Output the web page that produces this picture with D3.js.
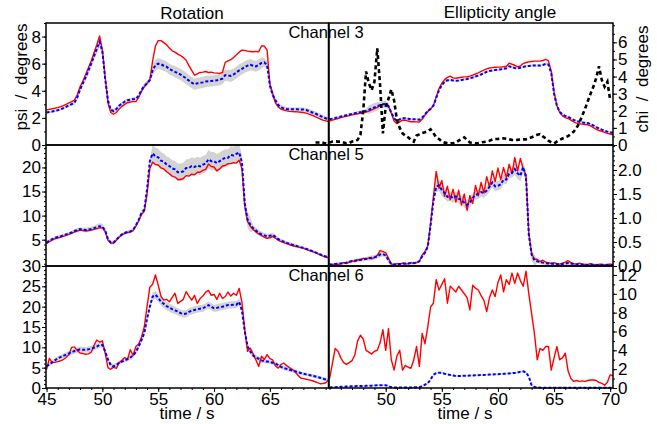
<!DOCTYPE html>
<html>
<head>
<meta charset="utf-8">
<script src="https://cdn.jsdelivr.net/npm/d3@7"></script>
<style>
  html, body { margin: 0; padding: 0; background: #fff; }
  svg { display: block; font-family: "Liberation Sans", Arial, Helvetica, sans-serif; }
</style>
</head>
<body>
<script>
// traces are sampled every 0.25 s starting at 45 s
const T0 = 45, DT = 0.25;
// the black dashed trace starts a bit earlier
const BLACK_T0 = 43.75;

// ---- Channel 3 ----
const rot3Red = [
  2.59, 2.63, 2.67, 2.71, 2.76, 2.82, 2.90, 3.00, 3.10, 3.20,
  3.32, 3.70, 4.30, 4.70, 5.20, 5.70, 6.20, 6.80, 7.40, 8.05,
  7.00, 5.00, 3.10, 2.40, 2.27, 2.40, 2.65, 2.85, 3.00, 3.12,
  3.17, 3.20, 3.20, 3.50, 3.95, 4.30, 4.55, 4.80, 6.20, 7.30,
  7.70, 7.70, 7.55, 7.40, 7.15, 6.95, 6.85, 6.70, 6.60, 6.45,
  6.25, 5.85, 5.50, 5.15, 5.25, 5.35, 5.38, 5.42, 5.35, 5.38,
  5.32, 5.30, 5.28, 5.35, 6.10, 6.20, 6.30, 6.45, 6.65, 6.85,
  7.00, 6.98, 6.92, 6.90, 6.88, 6.90, 6.88, 7.30, 7.30, 7.00,
  4.50, 3.80, 3.10, 2.80, 2.65, 2.58, 2.52, 2.48, 2.46, 2.45,
  2.44, 2.42, 2.40, 2.35, 2.28, 2.20, 2.12, 2.02, 1.92, 1.84,
  1.78, 1.72
];
const rot3Blue = [
  2.39, 2.43, 2.47, 2.52, 2.57, 2.63, 2.72, 2.82, 2.92, 3.02,
  3.12, 3.50, 4.10, 4.55, 5.00, 5.50, 6.00, 6.55, 7.10, 7.60,
  6.90, 4.90, 3.30, 2.60, 2.50, 2.65, 2.90, 3.05, 3.20, 3.30,
  3.35, 3.38, 3.40, 3.65, 4.05, 4.35, 4.55, 4.80, 5.50, 5.90,
  6.00, 5.95, 5.85, 5.78, 5.60, 5.50, 5.40, 5.30, 5.20, 5.05,
  4.92, 4.75, 4.60, 4.48, 4.55, 4.58, 4.62, 4.68, 4.70, 4.72,
  4.75, 4.78, 4.82, 4.90, 5.15, 5.12, 5.10, 5.20, 5.35, 5.50,
  5.62, 5.75, 5.85, 5.92, 5.85, 5.80, 5.90, 6.05, 6.10, 5.90,
  4.40, 3.70, 3.30, 2.95, 2.78, 2.70, 2.66, 2.64, 2.63, 2.63,
  2.63, 2.62, 2.62, 2.58, 2.50, 2.42, 2.35, 2.25, 2.15, 2.05,
  1.97, 1.90
];
const chi3Red = [
  1.40, 1.45, 1.50, 1.55, 1.60, 1.64, 1.68, 1.72, 1.76, 1.80,
  1.83, 1.85, 1.88, 1.93, 1.98, 2.05, 2.12, 2.20, 2.30, 2.38,
  2.40, 2.30, 1.85, 1.40, 1.25, 1.35, 1.45, 1.45, 1.40, 1.36,
  1.36, 1.35, 1.34, 1.50, 1.75, 1.95, 2.10, 2.30, 2.80, 3.30,
  3.60, 3.82, 3.95, 4.02, 3.92, 3.90, 3.93, 3.96, 3.98, 3.99,
  4.02, 4.08, 4.15, 4.22, 4.30, 4.38, 4.45, 4.50, 4.52, 4.54,
  4.55, 4.55, 4.57, 4.60, 4.78, 4.72, 4.66, 4.58, 4.62, 4.76,
  4.82, 4.86, 4.88, 4.90, 4.90, 4.90, 4.94, 5.00, 4.92, 4.30,
  3.10, 2.30, 1.90, 1.70, 1.60, 1.55, 1.45, 1.35, 1.28, 1.24,
  1.22, 1.20, 1.18, 1.12, 1.02, 0.92, 0.85, 0.80, 0.74, 0.68,
  0.64, 0.60
];
const chi3Blue = [
  1.50, 1.54, 1.58, 1.62, 1.66, 1.70, 1.74, 1.78, 1.82, 1.86,
  1.89, 1.92, 1.95, 2.00, 2.06, 2.13, 2.20, 2.27, 2.33, 2.38,
  2.38, 2.25, 1.90, 1.55, 1.42, 1.50, 1.56, 1.56, 1.53, 1.50,
  1.50, 1.50, 1.48, 1.60, 1.80, 1.98, 2.12, 2.30, 2.75, 3.20,
  3.50, 3.70, 3.78, 3.80, 3.77, 3.76, 3.77, 3.80, 3.83, 3.86,
  3.90, 3.94, 4.00, 4.06, 4.12, 4.20, 4.28, 4.33, 4.36, 4.38,
  4.40, 4.42, 4.45, 4.48, 4.60, 4.55, 4.50, 4.48, 4.52, 4.56,
  4.60, 4.62, 4.64, 4.65, 4.64, 4.64, 4.68, 4.74, 4.70, 4.20,
  3.00, 2.30, 1.95, 1.78, 1.70, 1.65, 1.56, 1.47, 1.40, 1.35,
  1.32, 1.30, 1.28, 1.22, 1.14, 1.04, 0.97, 0.90, 0.84, 0.78,
  0.74, 0.70
];
const chi3Black = [
  0.15, 0.15, 0.18, 0.12, 0.10,
  0.14, 0.20, 0.22, 0.20, 0.20, 0.15, 0.10, 0.12, 0.20, 0.22,
  0.30, 0.60, 2.00, 4.30, 3.60, 3.20, 3.70, 5.65, 3.50, 0.68,
  2.24, 2.70, 3.25, 2.60, 1.46, 1.00, 0.68, 0.55, 0.45, 0.30,
  0.20, 0.55, 0.62, 0.70, 0.75, 0.80, 0.92, 0.70, 0.45, 0.35,
  0.20, 0.14, 0.12, 0.10, 0.10, 0.15, 0.25, 0.35, 0.45, 0.30,
  0.15, 0.12, 0.10, 0.12, 0.15, 0.18, 0.20, 0.25, 0.32, 0.35,
  0.36, 0.38, 0.39, 0.36, 0.33, 0.30, 0.28, 0.30, 0.32, 0.33,
  0.33, 0.38, 0.45, 0.52, 0.60, 0.64, 0.50, 0.39, 0.25, 0.15,
  0.10, 0.20, 0.30, 0.38, 0.45, 0.52, 0.65, 0.78, 1.00, 1.30,
  1.70, 2.10, 2.55, 3.00, 3.40, 3.90, 4.60, 3.80, 3.40, 3.70,
  2.63
];

// ---- Channel 5 ----
const rot5Red = [
  4.20, 4.60, 4.90, 5.20, 5.35, 5.50, 5.70, 5.90, 6.10, 6.30,
  6.60, 6.80, 7.00, 6.90, 6.80, 6.90, 7.00, 7.15, 7.30, 7.45,
  7.50, 6.70, 4.90, 4.30, 4.30, 4.90, 5.50, 6.00, 6.30, 6.50,
  6.60, 6.90, 7.80, 8.90, 10.3, 10.9, 14.5, 19.8, 21.1, 20.6,
  20.5, 19.9, 19.7, 19.1, 18.7, 18.2, 18.0, 17.5, 17.5, 17.7,
  18.3, 18.2, 18.6, 18.5, 19.0, 19.0, 19.4, 19.6, 20.7, 20.2,
  20.1, 19.3, 19.7, 20.3, 20.4, 20.8, 20.8, 21.0, 20.9, 21.5,
  19.7, 12.0, 8.80, 7.80, 7.10, 6.60, 6.20, 5.90, 5.50, 5.30,
  5.40, 5.70, 5.30, 4.90, 4.60, 4.40, 4.20, 4.00, 3.80, 3.65,
  3.50, 3.35, 3.20, 3.00, 2.80, 2.60, 2.35, 2.10, 1.85, 1.60,
  1.40, 1.25
];
const rot5Blue = [
  4.40, 4.80, 5.10, 5.40, 5.55, 5.70, 5.90, 6.10, 6.30, 6.50,
  6.80, 7.00, 7.20, 7.10, 7.00, 7.10, 7.20, 7.40, 7.60, 7.80,
  7.70, 6.90, 5.10, 4.40, 4.40, 5.00, 5.60, 6.10, 6.40, 6.60,
  6.70, 7.00, 8.00, 9.10, 10.5, 11.2, 15.5, 21.3, 22.9, 22.3,
  22.1, 21.4, 21.2, 20.6, 20.3, 19.8, 19.6, 19.0, 19.0, 19.2,
  19.9, 19.9, 20.3, 20.1, 20.4, 20.2, 20.6, 20.8, 21.7, 21.3,
  21.3, 20.9, 21.3, 21.7, 22.0, 22.0, 22.6, 22.5, 22.8, 23.1,
  21.0, 12.5, 9.20, 8.10, 7.40, 6.90, 6.40, 6.10, 5.90, 5.70,
  5.80, 6.00, 5.60, 5.10, 4.80, 4.60, 4.35, 4.15, 3.95, 3.80,
  3.62, 3.46, 3.30, 3.10, 2.90, 2.68, 2.45, 2.20, 1.95, 1.70,
  1.50, 1.35
];
const chi5Red = [
  0.04, 0.02, 0.05, 0.03, 0.05, 0.07, 0.05, 0.08, 0.11, 0.09,
  0.13, 0.12, 0.16, 0.14, 0.17, 0.15, 0.18, 0.22, 0.32, 0.30,
  0.28, 0.16, 0.04, 0.03, 0.05, 0.04, 0.06, 0.04, 0.05, 0.07,
  0.05, 0.07, 0.10, 0.23, 0.30, 0.42, 0.89, 1.44, 1.97, 1.62,
  1.78, 1.45, 1.66, 1.38, 1.60, 1.33, 1.58, 1.27, 1.50, 1.16,
  1.47, 1.30, 1.68, 1.46, 1.74, 1.52, 1.86, 1.64, 1.98, 1.76,
  2.04, 1.80, 2.05, 1.84, 2.12, 1.92, 2.26, 1.98, 2.24, 2.02,
  1.90, 0.68, 0.26, 0.14, 0.14, 0.09, 0.12, 0.08, 0.07, 0.05,
  0.07, 0.05, 0.04, 0.06, 0.08, 0.11, 0.07, 0.05, 0.04, 0.06,
  0.04, 0.03, 0.03, 0.05, 0.03, 0.02, 0.03, 0.04, 0.02, 0.03,
  0.04, 0.03
];
const chi5Blue = [
  0.03, 0.03, 0.04, 0.05, 0.05, 0.06, 0.07, 0.09, 0.10, 0.11,
  0.12, 0.13, 0.14, 0.15, 0.16, 0.17, 0.18, 0.20, 0.24, 0.25,
  0.22, 0.12, 0.04, 0.03, 0.04, 0.04, 0.05, 0.05, 0.05, 0.06,
  0.06, 0.07, 0.10, 0.20, 0.28, 0.40, 0.85, 1.35, 1.65, 1.68,
  1.58, 1.52, 1.44, 1.46, 1.41, 1.45, 1.40, 1.38, 1.32, 1.27,
  1.32, 1.42, 1.48, 1.50, 1.54, 1.52, 1.57, 1.65, 1.74, 1.66,
  1.67, 1.70, 1.80, 1.80, 1.92, 1.94, 2.02, 1.93, 1.88, 2.06,
  1.85, 0.65, 0.24, 0.12, 0.10, 0.08, 0.07, 0.06, 0.05, 0.05,
  0.04, 0.04, 0.03, 0.04, 0.05, 0.06, 0.05, 0.04, 0.03, 0.03,
  0.03, 0.02, 0.02, 0.03, 0.02, 0.02, 0.02, 0.02, 0.02, 0.02,
  0.02, 0.02
];

// ---- Channel 6 ----
const rot6Red = [
  4.50, 7.30, 6.30, 6.30, 6.50, 6.70, 7.00, 7.50, 8.20, 10.0,
  10.1, 9.20, 8.60, 8.50, 8.30, 8.40, 8.80, 10.5, 11.8, 11.3,
  11.6, 8.60, 5.00, 4.60, 5.20, 4.80, 6.20, 6.80, 7.50, 7.00,
  9.40, 8.00, 10.2, 10.8, 12.5, 15.0, 20.0, 24.8, 25.5, 27.8,
  25.3, 22.5, 21.6, 21.8, 21.2, 22.3, 23.3, 20.8, 21.3, 21.8,
  23.7, 22.6, 21.6, 22.8, 20.8, 22.0, 22.6, 23.6, 24.0, 22.8,
  23.0, 21.8, 23.3, 22.0, 22.5, 23.6, 22.6, 23.3, 22.8, 24.5,
  21.0, 14.3, 9.00, 9.80, 8.40, 6.90, 5.30, 7.80, 7.00, 8.20,
  7.20, 6.90, 5.40, 4.90, 5.80, 6.10, 5.50, 5.00, 4.60, 4.00,
  3.20, 2.45, 2.30, 2.15, 2.00, 1.85, 1.60, 1.30, 1.06, 1.10,
  1.30, 2.00
];
const rot6Blue = [
  5.30, 5.80, 6.30, 6.80, 7.30, 7.60, 7.90, 8.20, 8.50, 8.80,
  9.10, 9.30, 9.50, 9.40, 9.40, 9.50, 9.70, 9.90, 10.2, 10.6,
  10.6, 9.00, 7.00, 5.60, 5.30, 5.60, 6.20, 6.50, 6.80, 7.10,
  7.50, 8.00, 8.90, 10.2, 11.8, 13.5, 17.0, 20.0, 22.5, 22.9,
  22.2, 21.2, 20.7, 20.1, 19.8, 19.4, 19.1, 18.8, 18.4, 18.2,
  18.3, 18.7, 19.0, 19.2, 19.4, 19.5, 19.6, 20.0, 20.4, 20.0,
  19.6, 19.7, 19.9, 20.0, 20.2, 20.4, 20.4, 20.5, 20.5, 21.2,
  19.0, 14.0, 10.2, 9.00, 8.00, 7.50, 7.20, 6.80, 6.60, 6.50,
  6.40, 6.20, 6.00, 5.60, 5.20, 4.90, 4.70, 4.50, 4.30, 4.10,
  3.90, 3.70, 3.50, 3.35, 3.20, 3.05, 2.90, 2.70, 2.50, 2.30,
  2.10, 1.90
];
const chi6Red = [
  1.00, 2.60, 4.20, 3.90, 3.20, 2.70, 2.50, 2.70, 2.90, 3.50,
  5.00, 5.60, 5.20, 4.00, 3.80, 3.60, 3.90, 4.00, 4.80, 6.20,
  4.00, 6.30, 3.00, 1.90, 3.40, 4.00, 1.90, 2.40, 2.20, 2.10,
  3.00, 4.40, 2.30, 5.80, 4.70, 6.50, 8.60, 9.00, 11.5, 10.4,
  11.0, 11.6, 9.00, 10.8, 10.5, 10.2, 10.8, 10.4, 10.0, 9.60,
  8.30, 10.9, 10.6, 10.4, 9.80, 9.30, 8.10, 9.60, 10.4, 9.70,
  11.2, 12.0, 10.2, 11.5, 11.0, 12.2, 11.1, 12.2, 11.4, 10.8,
  12.4, 10.0, 7.90, 5.80, 3.00, 4.20, 4.00, 4.40, 4.40, 1.90,
  3.20, 4.40, 3.00, 3.20, 3.70, 1.80, 1.00, 0.70, 0.80, 0.70,
  0.75, 0.70, 0.80, 0.85, 0.85, 0.80, 0.60, 0.50, 0.30, 0.60,
  1.40, 1.30
];
const chi6Blue = [
  0.05, 0.07, 0.09, 0.10, 0.12, 0.13, 0.15, 0.17, 0.18, 0.19,
  0.20, 0.21, 0.22, 0.23, 0.24, 0.25, 0.27, 0.28, 0.29, 0.30,
  0.30, 0.20, 0.07, 0.06, 0.06, 0.06, 0.06, 0.06, 0.06, 0.06,
  0.07, 0.08, 0.10, 0.18, 0.35, 0.50, 0.90, 1.40, 1.58, 1.63,
  1.60, 1.52, 1.45, 1.38, 1.33, 1.28, 1.27, 1.28, 1.30, 1.30,
  1.32, 1.33, 1.35, 1.36, 1.37, 1.38, 1.40, 1.42, 1.44, 1.45,
  1.46, 1.48, 1.50, 1.53, 1.55, 1.58, 1.60, 1.65, 1.72, 1.77,
  1.65, 1.20, 0.30, 0.12, 0.06, 0.04, 0.03, 0.03, 0.03, 0.03,
  0.02, 0.02, 0.02, 0.02, 0.02, 0.02, 0.02, 0.02, 0.02, 0.02,
  0.02, 0.02, 0.02, 0.02, 0.02, 0.02, 0.02, 0.02, 0.02, 0.02,
  0.02, 0.02
];

// spread of the blue estimate, one value per second from 45 s to 70 s
const rot3Sd = [0.08, 0.08, 0.10, 0.20, 0.30, 0.35, 0.15, 0.12, 0.12, 0.20, 0.40, 0.40, 0.42,
                0.42, 0.42, 0.40, 0.42, 0.45, 0.42, 0.40, 0.30, 0.18, 0.15, 0.15, 0.15, 0.15];
const chi3Sd = [0.05, 0.05, 0.06, 0.10, 0.25, 0.20, 0.08, 0.06, 0.06, 0.06, 0.06, 0.06, 0.06,
                0.06, 0.06, 0.06, 0.06, 0.06, 0.06, 0.06, 0.06, 0.05, 0.05, 0.05, 0.05, 0.05];
const rot5Sd = [0.30, 0.30, 0.30, 0.40, 0.50, 0.60, 0.40, 0.35, 0.40, 0.60, 1.80, 1.70, 1.80,
                1.80, 1.80, 1.90, 1.80, 1.80, 1.60, 0.60, 0.50, 0.40, 0.35, 0.30, 0.25, 0.25];
const chi5Sd = [0.03, 0.03, 0.03, 0.04, 0.05, 0.05, 0.03, 0.03, 0.03, 0.05, 0.12, 0.10, 0.10,
                0.10, 0.10, 0.10, 0.10, 0.12, 0.12, 0.04, 0.03, 0.03, 0.03, 0.03, 0.03, 0.03];
const rot6Sd = [0.40, 0.50, 0.60, 0.70, 0.70, 0.70, 0.60, 0.50, 0.60, 0.80, 1.00, 1.00, 0.90,
                0.90, 0.90, 0.90, 0.90, 0.90, 0.80, 0.60, 0.50, 0.50, 0.50, 0.40, 0.40, 0.40];
const chi6Sd = [0.08, 0.08, 0.08, 0.08, 0.08, 0.08, 0.08, 0.08, 0.08, 0.08, 0.08, 0.08, 0.08,
                0.08, 0.08, 0.08, 0.08, 0.08, 0.08, 0.08, 0.08, 0.08, 0.08, 0.08, 0.08, 0.08];

// tick labels
const timeTicks = [45, 50, 55, 60, 65, 70];
const rot3Ticks = [0, 2, 4, 6, 8];
const chi3Ticks = [0, 1, 2, 3, 4, 5, 6];
const rot5Ticks = [5, 10, 15, 20];
const chi5Ticks = [0, 0.5, 1.0, 1.5, 2.0];
const rot6Ticks = [0, 5, 10, 15, 20, 25, 30];
const chi6Ticks = [0, 2, 4, 6, 8, 10, 12];
const channels = ["Channel 3", "Channel 5", "Channel 6"];

// ---------------------------------------------------------------
const W = 657, H = 424;
const colX = [[46, 328.5], [329, 613]];
const rowY = [[23, 145], [145, 266], [266, 388]];
const tDomain = [44.95, 70.25];
const FONT = 17;

const panels = [
  {row: 0, col: 0, red: rot3Red, blue: rot3Blue, sd: rot3Sd, domain: [0, 9], ticks: rot3Ticks, minor: 1, fmt: "d"},
  {row: 0, col: 1, red: chi3Red, blue: chi3Blue, sd: chi3Sd, domain: [0, 7.13], ticks: chi3Ticks, minor: 0.5, fmt: "d", black: chi3Black},
  {row: 1, col: 0, red: rot5Red, blue: rot5Blue, sd: rot5Sd, domain: [-0.46, 24.66], ticks: rot5Ticks, minor: 1, fmt: "d"},
  {row: 1, col: 1, red: chi5Red, blue: chi5Blue, sd: chi5Sd, domain: [0, 2.52], ticks: chi5Ticks, minor: 0.1, fmt: ".1f"},
  {row: 2, col: 0, red: rot6Red, blue: rot6Blue, sd: rot6Sd, domain: [0, 30], ticks: rot6Ticks, minor: 1, fmt: "d"},
  {row: 2, col: 1, red: chi6Red, blue: chi6Blue, sd: chi6Sd, domain: [0, 12.95], ticks: chi6Ticks, minor: 1, fmt: "d"}
];

const svg = d3.select("body").append("svg")
  .attr("width", W)
  .attr("height", H);

svg.append("rect").attr("width", W).attr("height", H).attr("fill", "#fff");

const xScales = colX.map(r => d3.scaleLinear().domain(tDomain).range(r));

function styleAxis(g) {
  g.select(".domain").remove();
  g.selectAll("line").attr("stroke", "#000").attr("stroke-width", 1);
  g.selectAll("text").attr("font-size", FONT).attr("fill", "#000")
    .attr("font-family", "Liberation Sans, Arial, sans-serif");
}

panels.forEach(p => {
  const x = xScales[p.col];
  const y = d3.scaleLinear().domain(p.domain).range([rowY[p.row][1], rowY[p.row][0]]);
  const tAt = i => T0 + i * DT;
  const sdAt = i => p.sd[Math.min(p.sd.length - 1, Math.round(tAt(i) - T0))];

  const g = svg.append("g");

  // grey spread band round the blue trace
  g.append("path")
    .datum(p.blue)
    .attr("fill", "#d3d3d3")
    .attr("d", d3.area()
      .x((d, i) => x(tAt(i)))
      .y0((d, i) => y(d - sdAt(i)))
      .y1((d, i) => y(d + sdAt(i))));

  g.append("path")
    .datum(p.red)
    .attr("fill", "none")
    .attr("stroke", "#ff0000")
    .attr("stroke-width", 1.4)
    .attr("stroke-linejoin", "round")
    .attr("d", d3.line().x((d, i) => x(tAt(i))).y(d => y(d)));

  g.append("path")
    .datum(p.blue)
    .attr("fill", "none")
    .attr("stroke", "#0000ff")
    .attr("stroke-width", 2)
    .attr("stroke-dasharray", "3,2")
    .attr("d", d3.line().x((d, i) => x(tAt(i))).y(d => y(d)));

  if (p.black) {
    g.append("path")
      .datum(p.black)
      .attr("fill", "none")
      .attr("stroke", "#000")
      .attr("stroke-width", 2.6)
      .attr("stroke-dasharray", "4,3")
      .attr("d", d3.line().x((d, i) => x(BLACK_T0 + i * DT)).y(d => y(d)));
  }

  // y axis: left column on the left, right column on the right
  const [lo, hi] = p.domain;
  const minorVals = d3.range(Math.ceil(lo / p.minor) * p.minor, hi + 1e-9, p.minor);
  const fmt = d3.format(p.fmt);
  if (p.col === 0) {
    svg.append("g").attr("transform", `translate(${colX[0][0]},0)`)
      .call(d3.axisLeft(y).tickValues(minorVals).tickSize(2).tickFormat(""))
      .call(styleAxis);
    svg.append("g").attr("transform", `translate(${colX[0][0]},0)`)
      .call(d3.axisLeft(y).tickValues(p.ticks).tickSize(4).tickPadding(1).tickFormat(fmt))
      .call(styleAxis);
  } else {
    svg.append("g").attr("transform", `translate(${colX[1][1]},0)`)
      .call(d3.axisRight(y).tickValues(minorVals).tickSize(2).tickFormat(""))
      .call(styleAxis);
    svg.append("g").attr("transform", `translate(${colX[1][1]},0)`)
      .call(d3.axisRight(y).tickValues(p.ticks).tickSize(4).tickPadding(1).tickFormat(fmt))
      .call(styleAxis);
  }

  // time axis along the bottom row only
  if (p.row === 2) {
    const major = p.col === 0 ? timeTicks.slice(0, -1) : timeTicks.slice(1);
    svg.append("g").attr("transform", `translate(0,${rowY[2][1]})`)
      .call(d3.axisBottom(x).tickValues(d3.range(45, 70.5, 1)).tickSize(2).tickFormat(""))
      .call(styleAxis);
    svg.append("g").attr("transform", `translate(0,${rowY[2][1]})`)
      .call(d3.axisBottom(x).tickValues(major).tickSize(4).tickPadding(1).tickFormat(d3.format("d")))
      .call(styleAxis);
  }
});

// panel frames
colX.forEach(([x0, x1]) => {
  rowY.forEach(([y0, y1]) => {
    svg.append("rect")
      .attr("x", x0).attr("y", y0)
      .attr("width", x1 - x0).attr("height", y1 - y0)
      .attr("fill", "none")
      .attr("stroke", "#000")
      .attr("stroke-width", 1.5);
  });
});

// texts
const txt = (x, y, s, size, anchor) => svg.append("text")
  .attr("x", x).attr("y", y)
  .attr("text-anchor", anchor || "middle")
  .attr("font-size", size)
  .attr("fill", "#000")
  .text(s);

txt(192, 19, "Rotation", FONT);
txt(500, 18, "Ellipticity angle", FONT);
channels.forEach((c, i) => txt(326, rowY[i][0] + 15, c, 16.5));
txt(187, 419, "time / s", FONT);
txt(465, 419, "time / s", FONT);

svg.append("text")
  .attr("transform", "translate(26.5,77) rotate(-90)")
  .attr("text-anchor", "middle")
  .attr("font-size", FONT)
  .attr("xml:space", "preserve")
  .style("white-space", "pre")
  .text("psi  /  degrees");

svg.append("text")
  .attr("transform", "translate(648,79) rotate(-90)")
  .attr("text-anchor", "middle")
  .attr("font-size", FONT)
  .style("white-space", "pre")
  .text("chi  /  degrees");
</script>
</body>
</html>
